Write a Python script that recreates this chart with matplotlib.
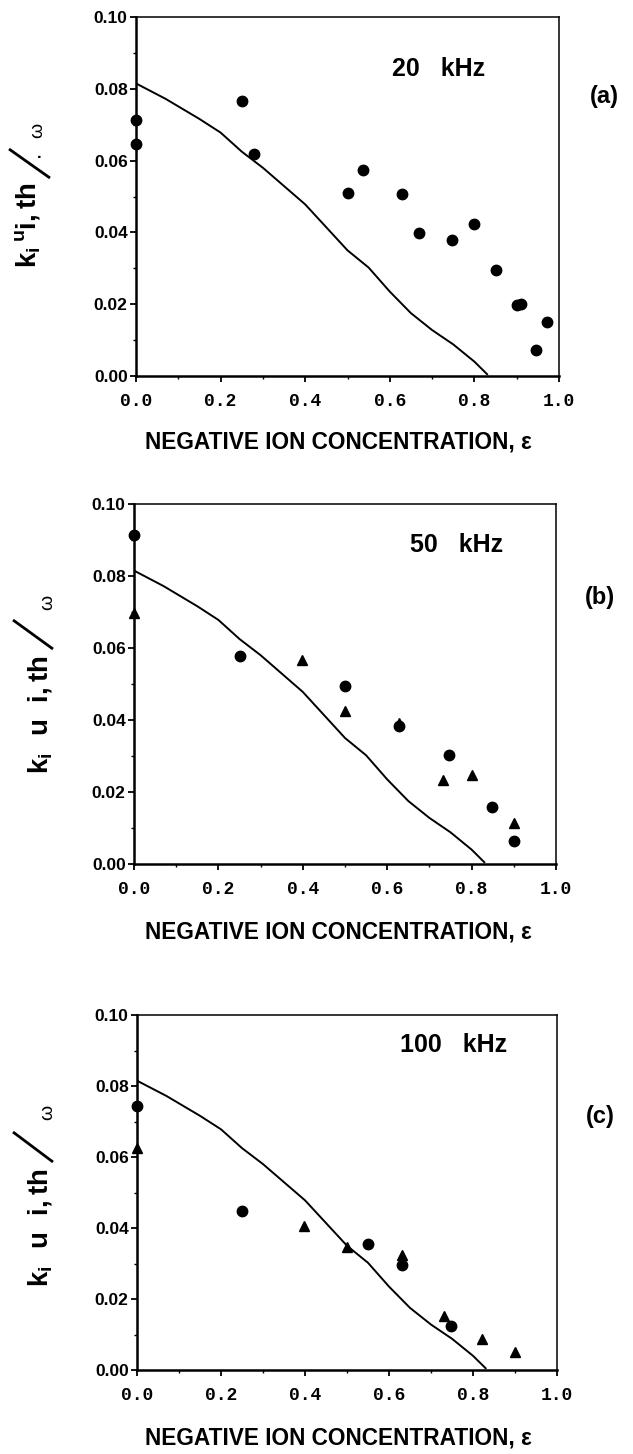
import matplotlib
matplotlib.use("Agg")
import matplotlib.pyplot as plt
from matplotlib.lines import Line2D
from matplotlib.ticker import MultipleLocator, FixedLocator

plt.rcParams['font.family'] = ['Liberation Sans', 'DejaVu Sans']
plt.rcParams['font.weight'] = 'bold'
plt.rcParams['mathtext.fontset'] = 'custom'
plt.rcParams['mathtext.rm'] = 'Liberation Sans:bold'
plt.rcParams['mathtext.bf'] = 'Liberation Sans:bold'
plt.rcParams['mathtext.it'] = 'Liberation Sans:bold'

# theory curve (same in all panels)
theory_x = [0.0, 0.07, 0.15, 0.2, 0.25, 0.3, 0.35, 0.4, 0.45, 0.5, 0.55, 0.6, 0.65, 0.7, 0.75, 0.8, 0.83]
theory_y = [0.0815, 0.0772, 0.0716, 0.0678, 0.0625, 0.0580, 0.0529, 0.0478, 0.0414, 0.0350, 0.0302,
            0.0235, 0.0175, 0.0128, 0.0088, 0.0040, 0.0005]

# (a) 20 kHz, circles
a_circ_x = [0.0, 0.0, 0.25, 0.28, 0.50, 0.536, 0.628, 0.67, 0.747, 0.80, 0.85, 0.90, 0.91, 0.945, 0.971]
a_circ_y = [0.0713, 0.0647, 0.0767, 0.0619, 0.0509, 0.0574, 0.0507, 0.0399, 0.0379, 0.0423, 0.0295,
            0.0197, 0.0200, 0.0072, 0.0151]

# (b) 50 kHz
b_circ_x = [0.0, 0.252, 0.499, 0.629, 0.747, 0.848, 0.901]
b_circ_y = [0.0914, 0.0578, 0.0495, 0.0383, 0.0303, 0.0159, 0.0065]
b_tri_x = [0.0, 0.398, 0.499, 0.629, 0.732, 0.800, 0.901]
b_tri_y = [0.0696, 0.0567, 0.0426, 0.0393, 0.0233, 0.0247, 0.0113]

# (c) 100 kHz
c_circ_x = [0.0, 0.25, 0.549, 0.630, 0.748]
c_circ_y = [0.0744, 0.0448, 0.0356, 0.0297, 0.0125]
c_tri_x = [0.0, 0.397, 0.499, 0.630, 0.730, 0.822, 0.899]
c_tri_y = [0.0626, 0.0405, 0.0346, 0.0323, 0.0151, 0.0087, 0.0050]

x_ticks = [0.0, 0.2, 0.4, 0.6, 0.8, 1.0]
x_ticklabels = ['0.0', '0.2', '0.4', '0.6', '0.8', '1.0']
y_ticks = [0.00, 0.02, 0.04, 0.06, 0.08, 0.10]
y_ticklabels = ['0.00', '0.02', '0.04', '0.06', '0.08', '0.10']

freq_labels = ['20   kHz', '50   kHz', '100   kHz']
panel_labels = ['(a)', '(b)', '(c)']
xlabel = 'NEGATIVE ION CONCENTRATION, ε'
ylabels = [r'$\mathbf{k_{i}}\,{}^{\mathbf{u}}\mathbf{i,th}$',
           r'$\mathbf{k_{i}}\ \ \mathbf{u}\ \ \mathbf{i,th}$',
           r'$\mathbf{k_{i}}\ \ \mathbf{u}\ \ \mathbf{i,th}$']

W, H = 633, 1454
fig = plt.figure(figsize=(W / 100, H / 100), dpi=100)

# layout (pixels)
boxes = [(136, 17, 559, 376), (134, 504, 556, 864), (137, 1015, 557, 1370)]
freq_pos = [(0.605, 0.0855), (0.655, 0.0886), (0.625, 0.0915)]
panel_xy = [(604, 97), (600, 598), (600, 1116)]
xlabel_off = [66, 68, 68]
ylab_main = [(27, 225), (40, 715), (40, 1228)]
ylab_slash = [((9, 149), (50, 178)), ((13, 620), (53, 649)), ((13, 1132), (53, 1162))]
ylab_omega = [(38, 130), (48, 602), (48, 1112)]

series = [
    [(a_circ_x, a_circ_y, 'o')],
    [(b_circ_x, b_circ_y, 'o'), (b_tri_x, b_tri_y, '^')],
    [(c_circ_x, c_circ_y, 'o'), (c_tri_x, c_tri_y, '^')],
]


def fx(px):
    return px / W


def fy(py):
    return 1 - py / H


for i, (l, t, r, b) in enumerate(boxes):
    ax = fig.add_axes([l / W, 1 - b / H, (r - l) / W, (b - t) / H])
    ax.plot(theory_x, theory_y, color='black', lw=1.4)
    for xs, ys, m in series[i]:
        ax.plot(xs, ys, linestyle='none', marker=m, color='black',
                markersize=7.5, clip_on=False, zorder=5)
    ax.set_xlim(0, 1.0)
    ax.set_ylim(0, 0.10)
    ax.xaxis.set_major_locator(FixedLocator(x_ticks))
    ax.set_xticklabels(x_ticklabels, fontfamily='Liberation Mono', fontweight='bold', fontsize=13)
    ax.yaxis.set_major_locator(FixedLocator(y_ticks))
    ax.set_yticklabels(y_ticklabels, fontsize=12.5, fontweight='bold')
    ax.xaxis.set_minor_locator(MultipleLocator(0.1))
    ax.yaxis.set_minor_locator(MultipleLocator(0.01))
    ax.tick_params(axis='both', which='major', direction='out', length=4, width=1.3)
    ax.tick_params(axis='both', which='minor', direction='out', length=2.5, width=1.0)
    ax.tick_params(axis='x', which='major', pad=8)
    ax.tick_params(axis='y', which='major', pad=2)
    for s in ['left', 'bottom']:
        ax.spines[s].set_linewidth(1.8)
    for s in ['top', 'right']:
        ax.spines[s].set_linewidth(1.1)

    ax.text(freq_pos[i][0], freq_pos[i][1], freq_labels[i], fontsize=18, fontweight='bold',
            ha='left', va='center')

    # x label
    fig.text(fx(338), fy(b + xlabel_off[i]), xlabel, fontsize=16.3, fontweight='bold',
             ha='center', va='center')
    # panel label
    fig.text(fx(panel_xy[i][0]), fy(panel_xy[i][1]), panel_labels[i], fontsize=17,
             fontweight='bold', ha='center', va='center')
    # y label pieces
    fig.text(fx(ylab_main[i][0]), fy(ylab_main[i][1]), ylabels[i], fontsize=20,
             rotation=90, ha='center', va='center')
    (x0, y0), (x1, y1) = ylab_slash[i]
    fig.add_artist(Line2D([fx(x0), fx(x1)], [fy(y0), fy(y1)], transform=fig.transFigure,
                          color='black', lw=2.0, solid_capstyle='butt'))
    fig.text(fx(ylab_omega[i][0]), fy(ylab_omega[i][1]), 'ω', fontsize=14,
             fontweight='normal', rotation=90, ha='center', va='center')
    if i == 0:
        fig.text(fx(40), fy(157), '·', fontsize=12, ha='center', va='center')

fig.savefig('out.png', dpi=100)
